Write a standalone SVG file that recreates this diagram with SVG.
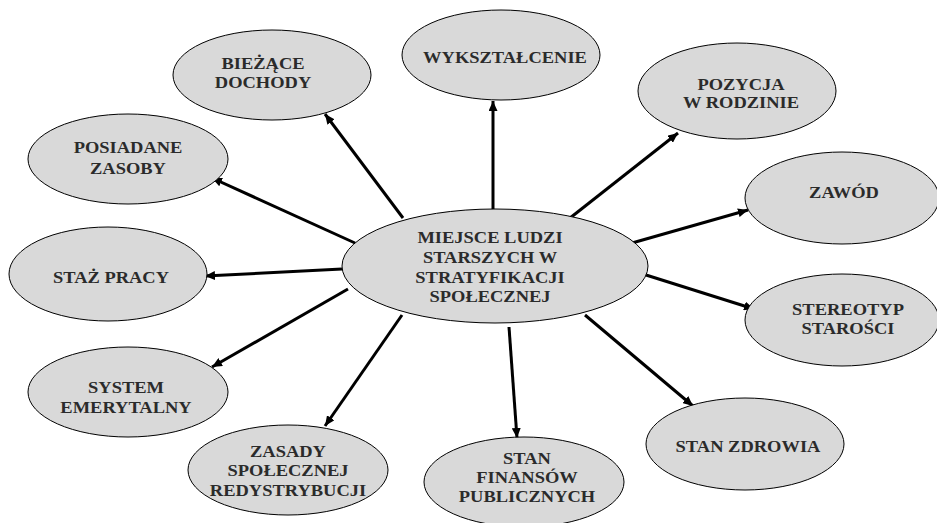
<svg xmlns="http://www.w3.org/2000/svg" width="937" height="523" viewBox="0 0 937 523" font-family="Liberation Serif, Times New Roman, serif">
<style>
.n ellipse{fill:#d9d9d9;stroke:#000;stroke-width:1}
.t{font-weight:700;font-size:16.5px;fill:#2b2b2b;text-anchor:middle}
.c line{stroke:#000;stroke-width:3;marker-end:url(#ah)}
</style>
<defs>
<marker id="ah" markerUnits="userSpaceOnUse" markerWidth="11" markerHeight="9" refX="10" refY="4.5" orient="auto">
<path d="M0,0 L10,4.5 L0,9 z" fill="#000"/>
</marker>
</defs>
<rect width="937" height="523" fill="#fff"/>
<g class="c" id="connectors">
<line x1="403" y1="218" x2="325" y2="114"/>
<line x1="355" y1="243" x2="212" y2="178"/>
<line x1="493" y1="212" x2="493" y2="101"/>
<line x1="570" y1="218" x2="678" y2="133"/>
<line x1="632" y1="243" x2="748" y2="210"/>
<line x1="342" y1="269" x2="205" y2="276"/>
<line x1="348" y1="289" x2="212" y2="367"/>
<line x1="402" y1="315" x2="325" y2="426"/>
<line x1="509" y1="327" x2="517" y2="438"/>
<line x1="585" y1="315" x2="693" y2="406"/>
<line x1="646" y1="275" x2="754" y2="309"/>
</g>
<g class="n" id="n-biezace">
<ellipse cx="272" cy="75" rx="99" ry="45"/>
<text class="t" transform="translate(263 0) scale(1.12 1)"><tspan x="0" y="69">BIEŻĄCE</tspan><tspan x="0" y="88">DOCHODY</tspan></text>
</g>
<g class="n" id="n-posiadane">
<ellipse cx="128" cy="159" rx="100" ry="45"/>
<text class="t" transform="translate(128 0) scale(1.12 1)"><tspan x="0" y="153">POSIADANE</tspan><tspan x="0" y="174">ZASOBY</tspan></text>
</g>
<g class="n" id="n-wyksztalcenie">
<ellipse cx="501" cy="55" rx="99" ry="45"/>
<text class="t" transform="translate(505 0) scale(1.12 1)"><tspan x="0" y="63">WYKSZTAŁCENIE</tspan></text>
</g>
<g class="n" id="n-pozycja">
<ellipse cx="737" cy="91" rx="99" ry="48"/>
<text class="t" transform="translate(741 0) scale(1.12 1)"><tspan x="0" y="90">POZYCJA</tspan><tspan x="0" y="108">W RODZINIE</tspan></text>
</g>
<g class="n" id="n-zawod">
<ellipse cx="842" cy="198" rx="97" ry="46"/>
<text class="t" transform="translate(844 0) scale(1.12 1)"><tspan x="0" y="198">ZAWÓD</tspan></text>
</g>
<g class="n" id="n-staz">
<ellipse cx="108" cy="274" rx="99" ry="47"/>
<text class="t" transform="translate(111 0) scale(1.12 1)"><tspan x="0" y="283">STAŻ PRACY</tspan></text>
</g>
<g class="n" id="n-system">
<ellipse cx="128" cy="392" rx="100" ry="45"/>
<text class="t" transform="translate(126 0) scale(1.12 1)"><tspan x="0" y="393">SYSTEM</tspan><tspan x="0" y="413">EMERYTALNY</tspan></text>
</g>
<g class="n" id="n-zasady">
<ellipse cx="288" cy="470" rx="100" ry="45"/>
<text class="t" transform="translate(288 0) scale(1.12 1)"><tspan x="0" y="457">ZASADY</tspan><tspan x="0" y="476">SPOŁECZNEJ</tspan><tspan x="0" y="496">REDYSTRYBUCJI</tspan></text>
</g>
<g class="n" id="n-finanse">
<ellipse cx="524" cy="482" rx="100" ry="45"/>
<text class="t" transform="translate(527 0) scale(1.12 1)"><tspan x="0" y="464">STAN</tspan><tspan x="0" y="483">FINANSÓW</tspan><tspan x="0" y="502">PUBLICZNYCH</tspan></text>
</g>
<g class="n" id="n-zdrowie">
<ellipse cx="745" cy="444" rx="99" ry="46"/>
<text class="t" transform="translate(748 0) scale(1.12 1)"><tspan x="0" y="452">STAN ZDROWIA</tspan></text>
</g>
<g class="n" id="n-stereotyp">
<ellipse cx="842" cy="320" rx="97" ry="46"/>
<text class="t" transform="translate(848 0) scale(1.12 1)"><tspan x="0" y="315">STEREOTYP</tspan><tspan x="0" y="334">STAROŚCI</tspan></text>
</g>
<g class="n" id="n-center">
<ellipse cx="495" cy="266" rx="153" ry="57"/>
<text class="t" transform="translate(490 0) scale(1.12 1)"><tspan x="0" y="243">MIEJSCE LUDZI</tspan><tspan x="0" y="263">STARSZYCH W</tspan><tspan x="0" y="283">STRATYFIKACJI</tspan><tspan x="0" y="302">SPOŁECZNEJ</tspan></text>
</g>
</svg>
